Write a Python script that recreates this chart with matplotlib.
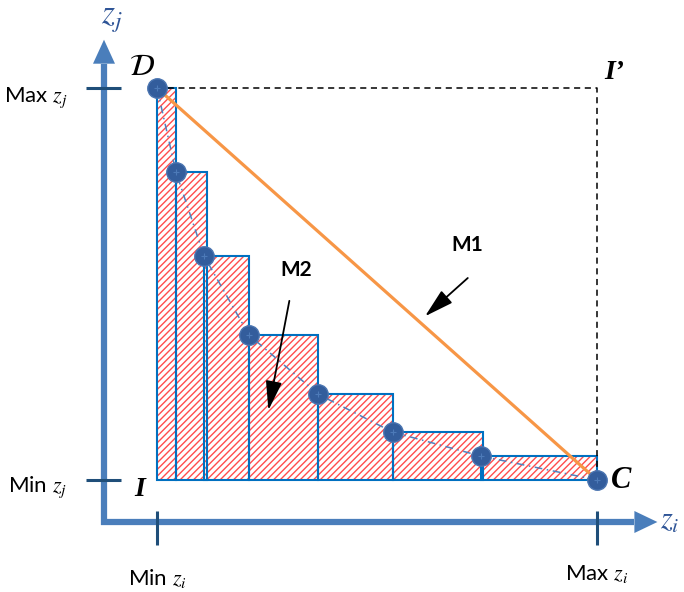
import matplotlib
matplotlib.use("Agg")
import matplotlib.pyplot as plt
from matplotlib.patches import Rectangle, Polygon

plt.rcParams['mathtext.fontset'] = 'stix'
plt.rcParams['hatch.linewidth'] = 1.0

# normalised coordinates: zi (Min=0, Max=1), zj (Min=0, Max=1)
pts_zi = [0.0, 0.043, 0.107, 0.209, 0.366, 0.536, 0.736, 1.0]
pts_zj = [1.0, 0.786, 0.571, 0.370, 0.219, 0.122, 0.061, 0.0]
bar_right = [0.043, 0.114, 0.209, 0.366, 0.536, 0.741, 1.0]

AXIS = '#4a7ebb'
TICK = '#1f4e79'

fig = plt.figure(figsize=(6.84, 5.92), dpi=100)
ax = fig.add_axes([0, 0, 1, 1])
# 440 px per zi unit, 392 px per zj unit
ax.set_xlim(-157 / 440, (684 - 157) / 440)
ax.set_ylim(-112 / 392, 480 / 392)
ax.axis('off')

# hatched step bars (M2)
for i in range(len(bar_right)):
    x0 = pts_zi[i]
    w = bar_right[i] - x0
    h = pts_zj[i]
    ax.add_patch(Rectangle((x0, 0), w, h, facecolor='white', edgecolor='#ff4d4d',
                           hatch='/////', linewidth=0, zorder=2))
    ax.add_patch(Rectangle((x0, 0), w, h, fill=False, edgecolor='#0070c0',
                           linewidth=1.5, zorder=3))

# dashed box D - I' - C
ax.plot([0, 1, 1], [1, 1, 0], color='black', lw=1.1, ls=(0, (4, 3)), zorder=3)

# dash-dot curve through points
ax.plot(pts_zi, pts_zj, color='#4f81bd', lw=1.1, ls=(0, (5, 3, 1, 3)), zorder=4)

# M1 straight line
ax.plot([pts_zi[0], pts_zi[-1]], [pts_zj[0], pts_zj[-1]], color='#f79646', lw=2.3, zorder=5)

# points
ax.plot(pts_zi, pts_zj, 'o', ms=14, mfc='#335d9c', mec='#4a74b0', mew=1.0, zorder=6)
ax.plot(pts_zi, pts_zj, '+', ms=5, color='#4d7ab8', mew=0.8, zorder=7)

# axes arrows
ax_x = -53 / 440
ax_y = -42 / 392
ax.plot([ax_x, ax_x], [ax_y - 3 / 392, 1.062], color=AXIS, lw=4.5, solid_capstyle='butt', zorder=1)
ax.plot([ax_x - 3 / 440, 1.085], [ax_y, ax_y], color=AXIS, lw=4.5, solid_capstyle='butt', zorder=1)
hw_x = 11 / 440
hl_y = 24 / 392
ax.add_patch(Polygon([[ax_x - hw_x, 1.062], [ax_x + hw_x, 1.062], [ax_x, 1.062 + hl_y]],
                     closed=True, color=AXIS, lw=0, zorder=1))
hw_y = 11 / 392
hl_x = 23 / 440
ax.add_patch(Polygon([[1.085, ax_y - hw_y], [1.085, ax_y + hw_y], [1.085 + hl_x, ax_y]],
                     closed=True, color=AXIS, lw=0, zorder=1))

# ticks
for yv in [0, 1]:
    ax.plot([-71 / 440, -36 / 440], [yv, yv], color=TICK, lw=2.2, solid_capstyle='butt', zorder=2)
for xv in [0, 1]:
    ax.plot([xv, xv], [-31 / 392, -65 / 392], color=TICK, lw=2.2, solid_capstyle='butt', zorder=2)

# tick labels
lab = dict(fontsize=16, family='Lato', color='black')
ax.text(-90 / 440, 0.975, 'Max $z_j$', ha='right', va='center', **lab)
ax.text(-90 / 440, -0.018, 'Min $z_j$', ha='right', va='center', **lab)
ax.text(0.0, -0.252, 'Min $z_i$', ha='center', va='center', **lab)
ax.text(1.0, -0.24, 'Max $z_i$', ha='center', va='center', **lab)

# axis names
ax.text(-45 / 440, 1.178, '$z_j$', ha='center', va='center', fontsize=24, color='#2f5597')
ax.text(1.165, ax_y + 0.003, '$z_i$', ha='center', va='center', fontsize=22, color='#2f5597')

# corner letters
ax.text(-0.035, 1.055, r'$\mathcal{D}$', ha='center', va='center', fontsize=22, color='black')
ax.text(1.04, 1.04, "I’", ha='center', va='center', fontsize=20, color='black',
        family='Liberation Serif', style='italic', weight='bold')
ax.text(-0.04, -0.025, 'I', ha='center', va='center', fontsize=20, color='black',
        family='Liberation Serif', style='italic', weight='bold')
ax.text(1.055, 0.0, 'C', ha='center', va='center', fontsize=22, color='black',
        family='Liberation Serif', style='italic', weight='bold')

# M1 / M2 labels with arrows
arrow = dict(arrowstyle='-|>,head_length=0.9,head_width=0.25', color='black',
             lw=1.3, mutation_scale=20)
ax.annotate('', xy=(0.6045, 0.413), xytext=(0.711, 0.520), arrowprops=arrow, zorder=8)
ax.text(0.7045, 0.599, 'M1', ha='center', va='center', fontsize=15, weight='bold', family='Lato')
ax.annotate('', xy=(0.252, 0.171), xytext=(0.302, 0.464), arrowprops=arrow, zorder=8)
ax.text(0.316, 0.536, 'M2', ha='center', va='center', fontsize=15, weight='bold', family='Lato')

fig.savefig('out.png', dpi=100)
